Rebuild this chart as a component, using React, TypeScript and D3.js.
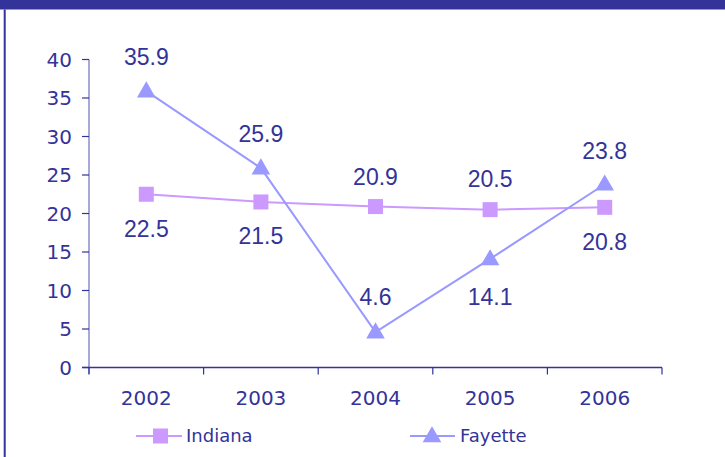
import React from "react";
import * as d3 from "d3";

const years = ["2002", "2003", "2004", "2005", "2006"];
const indiana = [22.5, 21.5, 20.9, 20.5, 20.8];
const fayette = [35.9, 25.9, 4.6, 14.1, 23.8];
const yTicks = [0, 5, 10, 15, 20, 25, 30, 35, 40];
const seriesNames = ["Indiana", "Fayette"];

// label placement (style): offsets in px from the point
const indianaLabelOffset = [34, 34, -30, -31, 34];
const fayetteLabelOffset = [-34, -34, -35, 38, -34];

const W = 725;
const H = 457;
const DARK = "#333399";
const IND = "#cc99ff";
const FAY = "#9999ff";

export default function App() {
  const x = d3.scaleBand<string>().domain(years).range([89, 662]);
  const y = d3.scaleLinear().domain([0, 40]).range([367.5, 59.5]);
  const cx = (yr: string) => (x(yr) as number) + x.bandwidth() / 2;

  const line = d3
    .line<number>()
    .x((_, i) => cx(years[i]))
    .y((d) => y(d));

  const tri = d3.symbol().type(d3.symbolTriangle).size(150);

  const labelFont = { fontFamily: "'Liberation Sans', Arial, sans-serif", fontSize: 23, fill: DARK };
  const axisFont = { fontFamily: "'DejaVu Sans', Verdana, sans-serif", fontSize: 20, fill: DARK };

  return (
    <svg width={W} height={H} style={{ position: "absolute", left: 0, top: 0, background: "#fff" }}>
      <rect x={0} y={0} width={W} height={9.5} fill={DARK} />
      <rect x={3.7} y={9.5} width={2} height={H} fill={DARK} />

      {/* y axis */}
      <line x1={89} x2={89} y1={y(40)} y2={374} stroke="#8c8cc8" strokeWidth={1.5} />
      {yTicks.map((t) => (
        <g key={t}>
          <line x1={82} x2={89} y1={y(t)} y2={y(t)} stroke={DARK} strokeWidth={1.2} />
          <text x={72} y={y(t)} dy="0.36em" textAnchor="end" {...axisFont}>
            {t}
          </text>
        </g>
      ))}

      {/* x axis */}
      <line x1={82} x2={662} y1={y(0)} y2={y(0)} stroke={DARK} strokeWidth={1.5} />
      {years.map((yr, i) => (
        <line key={"t" + i} x1={x(yr) as number} x2={x(yr) as number} y1={y(0)} y2={374.5} stroke={DARK} strokeWidth={1.2} />
      ))}
      <line x1={662} x2={662} y1={y(0)} y2={374.5} stroke={DARK} strokeWidth={1.2} />
      {years.map((yr) => (
        <text key={yr} x={cx(yr)} y={398} dy="0.36em" textAnchor="middle" {...axisFont}>
          {yr}
        </text>
      ))}

      {/* series */}
      <path d={line(indiana) || ""} fill="none" stroke={IND} strokeWidth={2} />
      <path d={line(fayette) || ""} fill="none" stroke={FAY} strokeWidth={2} />
      {indiana.map((v, i) => (
        <rect key={"im" + i} x={cx(years[i]) - 7.5} y={y(v) - 7.5} width={15} height={15} fill={IND} />
      ))}
      {fayette.map((v, i) => (
        <path key={"fm" + i} d={tri() || ""} transform={`translate(${cx(years[i])},${y(v) + 1})`} fill={FAY} />
      ))}

      {/* data labels */}
      {indiana.map((v, i) => (
        <text key={"il" + i} x={cx(years[i])} y={y(v) + indianaLabelOffset[i]} dy="0.36em" textAnchor="middle" {...labelFont}>
          {v.toFixed(1)}
        </text>
      ))}
      {fayette.map((v, i) => (
        <text key={"fl" + i} x={cx(years[i])} y={y(v) + fayetteLabelOffset[i]} dy="0.36em" textAnchor="middle" {...labelFont}>
          {v.toFixed(1)}
        </text>
      ))}

      {/* legend */}
      <g>
        <line x1={136} x2={182} y1={436} y2={436} stroke={IND} strokeWidth={2} />
        <rect x={153} y={428.5} width={15} height={15} fill={IND} />
        <text x={186} y={436} dy="0.36em" fontFamily="'DejaVu Sans', Verdana, sans-serif" fontSize={18} fill={DARK}>
          {seriesNames[0]}
        </text>
        <line x1={410} x2={455} y1={436} y2={436} stroke={FAY} strokeWidth={2} />
        <path d={tri() || ""} transform="translate(432,437)" fill={FAY} />
        <text x={460} y={436} dy="0.36em" fontFamily="'DejaVu Sans', Verdana, sans-serif" fontSize={18} fill={DARK}>
          {seriesNames[1]}
        </text>
      </g>
    </svg>
  );
}
